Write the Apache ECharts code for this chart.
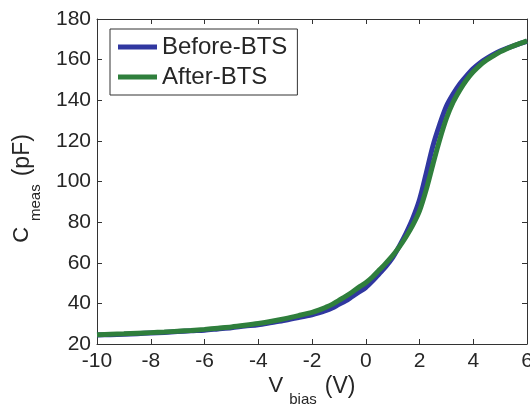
<!DOCTYPE html>
<html>
<head>
<meta charset="utf-8">
<script src="https://cdn.jsdelivr.net/npm/echarts@6/dist/echarts.min.js"></script>
<style>
html,body{margin:0;padding:0;background:#fff;}
#chart{width:530px;height:406px;}
</style>
</head>
<body>
<div id="chart"></div>
<script>
const vBias = [-10,-9.5,-9,-8.5,-8,-7.5,-7,-6.5,-6,-5.5,-5,-4.5,-4,-3.5,-3,-2.5,-2,-1.75,-1.5,-1.25,-1,-0.75,-0.5,-0.25,0,0.25,0.5,0.75,1,1.25,1.5,1.75,2,2.25,2.5,2.75,3,3.25,3.5,3.75,4,4.25,4.5,4.75,5,5.25,5.5,5.75,6];
const beforeBTS = [24.4,24.6,24.8,25.1,25.4,25.7,26.1,26.5,26.8,27.4,28.0,28.8,29.5,30.6,31.7,33.0,34.4,35.3,36.4,37.7,39.5,41.2,43.4,45.6,47.8,51.0,54.6,58.2,62.5,68.2,74.5,81.8,91.0,104.0,117.5,128.0,137.0,143.0,148.0,152.0,155.6,158.4,160.6,162.5,164.2,165.6,166.8,168.0,169.0];
const afterBTS = [24.6,24.8,25.0,25.3,25.6,25.9,26.3,26.7,27.2,27.8,28.4,29.2,30.1,31.2,32.5,34.0,35.6,36.7,38.0,39.5,41.5,43.4,45.6,48.0,50.2,53.0,56.4,59.8,63.5,67.8,72.8,78.5,85.5,96.0,108.5,120.5,131.0,139.0,145.0,150.0,154.0,157.2,159.8,161.9,163.8,165.4,166.8,168.0,169.2];
const seriesNames = ['Before-BTS','After-BTS'];
const xTicks = {min:-10, max:6, interval:2};
const yTicks = {min:20, max:180, interval:20};

const pairs = (xs, ys) => xs.map((x,i)=>[x, ys[i]]);
const txt = '#262626';
const axisCol = '#333';
const font = 'Liberation Sans, Arial, Helvetica, sans-serif';
const nameRich = {
  m:{fontSize:22, lineHeight:22, verticalAlign:'top', color:txt, fontFamily:font},
  p:{fontSize:23, lineHeight:22, verticalAlign:'top', color:txt, fontFamily:font, padding:[0,0,0,6]},
  s:{fontSize:15, lineHeight:32, verticalAlign:'bottom', color:txt, fontFamily:font, padding:[0,2,0,6]}
};
const baseAxis = {
  axisLine:{show:true, onZero:false, lineStyle:{color:axisCol, width:1}},
  axisTick:{show:true, inside:true, length:5, lineStyle:{color:axisCol}},
  splitLine:{show:false}
};
const chart = echarts.init(document.getElementById('chart'));
chart.setOption({
  animation:false,
  backgroundColor:'#fff',
  grid:{left:97, right:3, top:19, bottom:62, containLabel:false, outerBoundsMode:'none'},
  legend:{
    data:seriesNames.map(n=>({name:n, icon:'rect'})),
    orient:'vertical', left:110, top:29,
    itemWidth:39, itemHeight:5, itemGap:6,
    padding:[6,10,6,8],
    borderColor:'#333', borderWidth:1, backgroundColor:'#fff',
    textStyle:{fontSize:24, color:txt, fontFamily:font}
  },
  xAxis:[
    Object.assign({type:'value', position:'bottom', min:xTicks.min, max:xTicks.max, interval:xTicks.interval,
      axisLabel:{fontSize:21, color:txt, fontFamily:font, margin:7, showMaxLabel:true, showMinLabel:true},
      name:'{m|V}{s|bias}{p|(V)}', nameLocation:'middle', nameGap:31, nameMoveOverlap:false,
      nameTextStyle:{rich:nameRich}}, baseAxis),
    Object.assign({type:'value', position:'top', min:xTicks.min, max:xTicks.max, interval:xTicks.interval,
      axisLabel:{show:false}}, baseAxis)
  ],
  yAxis:[
    Object.assign({type:'value', position:'left', min:yTicks.min, max:yTicks.max, interval:yTicks.interval,
      axisLabel:{fontSize:21, color:txt, fontFamily:font, margin:6},
      name:'{m|C}{s|meas}{p|(pF)}', nameLocation:'middle', nameGap:54, nameMoveOverlap:false,
      nameTextStyle:{rich:nameRich, padding:[0,14,0,0]}}, baseAxis),
    Object.assign({type:'value', position:'right', min:yTicks.min, max:yTicks.max, interval:yTicks.interval,
      axisLabel:{show:false}}, baseAxis)
  ],
  series:[
    {name:seriesNames[0], type:'line', data:pairs(vBias, beforeBTS), showSymbol:false, smooth:0.3,
      color:'#3037a0', lineStyle:{width:5, color:'#3037a0'}, xAxisIndex:0, yAxisIndex:0},
    {name:seriesNames[1], type:'line', data:pairs(vBias, afterBTS), showSymbol:false, smooth:0.3,
      color:'#2f7f3c', lineStyle:{width:5, color:'#2f7f3c'}, xAxisIndex:0, yAxisIndex:0}
  ]
});
</script>
</body>
</html>
